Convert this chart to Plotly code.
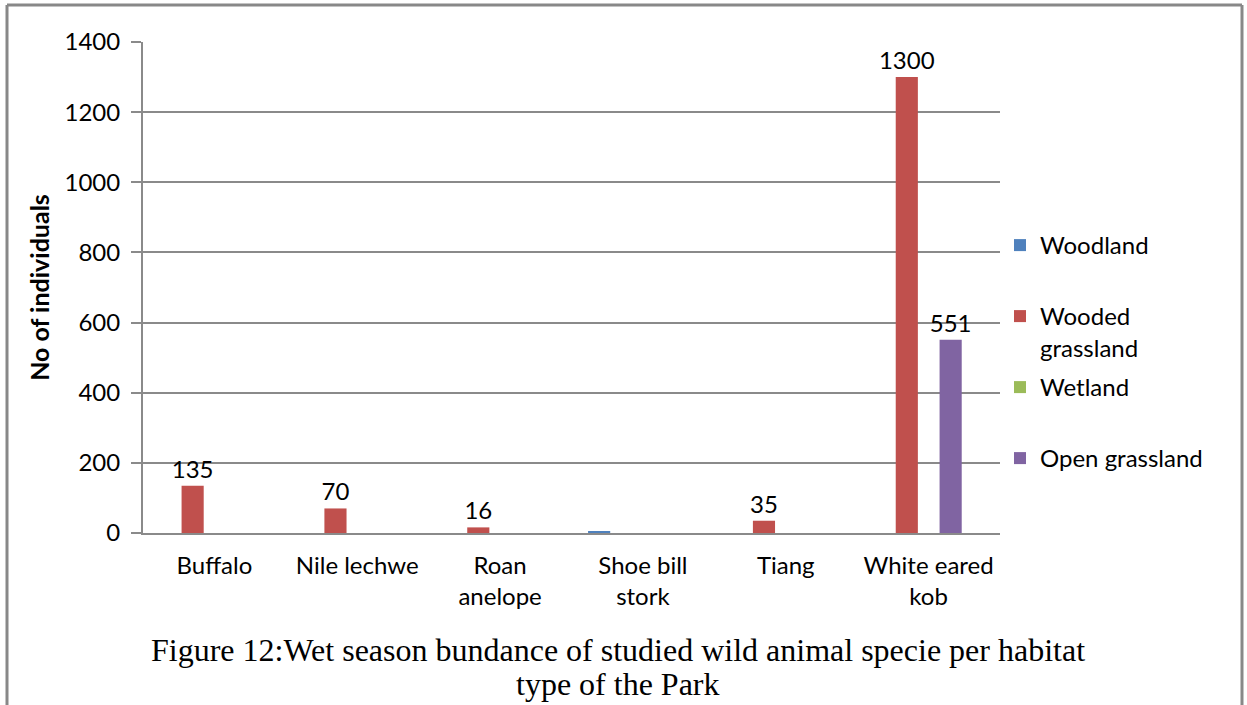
import plotly.graph_objects as go

# Species and wet-season counts by habitat type
species = ["Buffalo", "Nile lechwe", "Roan<br>anelope", "Shoe bill<br>stork", "Tiang", "White eared<br>kob"]
woodland = [0, 0, 0, 3, 0, 0]
wooded_grassland = [135, 70, 16, 0, 35, 1300]
wetland = [0, 0, 0, 0, 0, 0]
open_grassland = [0, 0, 0, 0, 0, 551]

y_ticks = [0, 200, 400, 600, 800, 1000, 1200, 1400]

caption_lines = [
    "Figure 12:Wet season bundance of studied wild animal specie per habitat",
    "type of the Park",
]

W, H = 1247, 705
L, R, T, B = 143, 247, 42, 172
plot_w = W - L - R
plot_h = H - T - B

FONT = "Lato"
TICK_SIZE = 24
GRID = "#8a8a8a"


def px(x):
    return (x - L) / plot_w


def py(y):
    return (H - B - y) / plot_h


series = [
    ("Woodland", woodland, "#4f81bd", -0.384, "legend"),
    ("Wooded<br>grassland", wooded_grassland, "#c0504d", -0.23, "legend2"),
    ("Wetland", wetland, "#9bbb59", -0.077, "legend3"),
    ("Open grassland", open_grassland, "#8064a2", 0.077, "legend4"),
]

fig = go.Figure()
for name, vals, color, off, leg in series:
    labels = [str(v) if v >= 10 else "" for v in vals]
    fig.add_trace(go.Bar(
        x=species, y=vals, name=name,
        marker=dict(color=color, line=dict(width=0)),
        width=0.155, offset=off,
        text=labels, textposition="outside", cliponaxis=False,
        constraintext="none",
        textfont=dict(family=FONT, size=TICK_SIZE, color="#000"),
        legend=leg,
    ))


def legend_at(ypix):
    return dict(
        x=px(1000), xanchor="left", y=py(ypix), yanchor="top",
        font=dict(family=FONT, size=TICK_SIZE, color="#000"),
        bgcolor="rgba(0,0,0,0)", valign="top",
        itemclick=False, itemdoubleclick=False,
    )


annotations = []
for line, ycen in zip(caption_lines, [650, 684]):
    annotations.append(dict(
        text=line, xref="paper", yref="paper", x=px(618), y=py(ycen),
        xanchor="center", yanchor="middle", showarrow=False,
        font=dict(family="Liberation Serif", size=32, color="#000"),
    ))

fig.update_layout(
    width=W, height=H,
    margin=dict(l=L, r=R, t=T, b=B, pad=0),
    paper_bgcolor="white", plot_bgcolor="white",
    barmode="overlay",
    showlegend=True,
    legend=legend_at(223),
    legend2=legend_at(294),
    legend3=legend_at(365),
    legend4=legend_at(436),
    xaxis=dict(
        type="category", showgrid=False, showline=True, linecolor=GRID, linewidth=2,
        ticks="", tickfont=dict(family=FONT, size=TICK_SIZE, color="#000"),
        ticklabelstandoff=10,
        range=[-0.5, 5.5], fixedrange=True,
    ),
    yaxis=dict(
        range=[0, 1400], tickvals=y_ticks, showgrid=True, gridcolor=GRID, gridwidth=1.5,
        showline=True, linecolor=GRID, linewidth=2, ticks="outside", ticklen=10,
        tickcolor=GRID, tickwidth=1.5, zeroline=False,
        tickfont=dict(family=FONT, size=TICK_SIZE, color="#000"), ticklabelstandoff=6,
        title=dict(text="<b>No of individuals</b>", font=dict(family=FONT, size=25, color="#000"), standoff=8),
    ),
    annotations=annotations,
)

# Frame around the figure: left, top and right sides
BORDER = dict(color="#888888", width=3)
fig.add_shape(type="line", xref="paper", yref="paper", x0=px(7), x1=px(7), y0=py(5), y1=py(705), line=BORDER)
fig.add_shape(type="line", xref="paper", yref="paper", x0=px(7), x1=px(1242), y0=py(5), y1=py(5), line=BORDER)
fig.add_shape(type="line", xref="paper", yref="paper", x0=px(1242), x1=px(1242), y0=py(5), y1=py(705), line=BORDER)

fig.write_html("out.html")
